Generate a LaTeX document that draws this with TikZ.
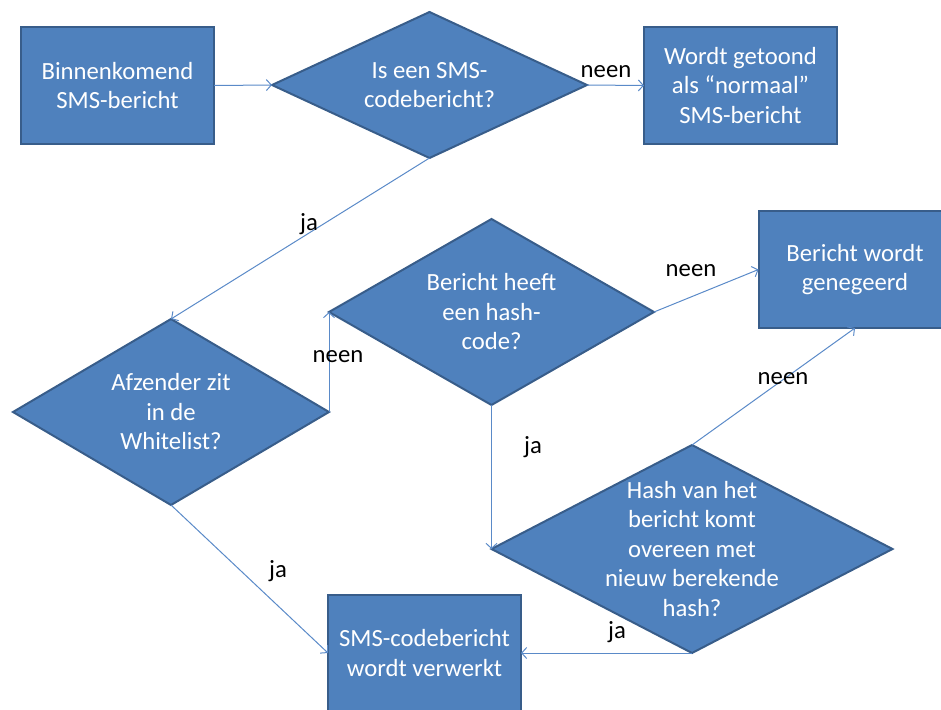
\documentclass[tikz,border=0pt]{standalone}
\usepackage{fontspec}
\setmainfont{Carlito}
\usetikzlibrary{shapes.geometric,arrows.meta}
\definecolor{boxfill}{RGB}{79,129,189}
\definecolor{boxline}{RGB}{56,93,138}
\definecolor{flowline}{RGB}{90,138,200}
\begin{document}
\begin{tikzpicture}[x=1pt,y=-1pt,
  txt/.style={font=\fontsize{24.7}{29.5}\selectfont},
  stepbox/.style={txt, rectangle, draw=boxline, line width=2pt, fill=boxfill,
    text=white, align=center, minimum width=193pt, minimum height=117pt,
    inner sep=0pt, outer sep=0pt},
  decision/.style={diamond, draw=boxline, line width=2pt, fill=boxfill,
    inner sep=0pt, outer sep=0pt},
  dtext/.style={txt, text=white, align=center, inner sep=0pt},
  flow/.style={draw=flowline, line width=1pt,
    -{Straight Barb[length=5pt,width=11pt,line width=1pt]}},
  tag/.style={txt, text=black, inner sep=0pt}]
\clip (0,0) rectangle (941,709);

% process boxes
\node[stepbox] (b1) at (117.5,85.5) {Binnenkomend\\SMS-bericht};
\node[stepbox] (b2) at (740.5,85.5) {Wordt getoond\\als “normaal”\\SMS-bericht};
\node[stepbox] (b3) at (855,269.5) {Bericht wordt\\genegeerd};
\node[stepbox] (b4) at (424.5,653) {SMS-codebericht\\wordt verwerkt};

% decisions
\node[decision, minimum width=315pt, minimum height=146pt,
  label={[dtext]center:{Is een SMS-\\codebericht?}}] (d1) at (429.5,85) {};
\node[decision, minimum width=316pt, minimum height=186pt,
  label={[dtext]center:{Afzender zit\\in de\\Whitelist?}}] (d2) at (171,412) {};
\node[decision, minimum width=325pt, minimum height=186pt,
  label={[dtext]center:{Bericht heeft\\een hash-\\code?}}] (d3) at (491.5,312) {};
\node[decision, minimum width=401pt, minimum height=208pt,
  label={[dtext]center:{Hash van het\\bericht komt\\overeen met\\nieuw berekende\\hash?}}] (d4) at (692,549) {};

% connectors
\draw[flow] (b1.east) -- (d1.west);
\draw[flow] (d1.east) -- (b2.west);
\draw[flow] (d1.south) -- (d2.north);
\draw[flow] (d2.east) -- (d3.west);
\draw[flow] (d3.east) -- (b3.west);
\draw[flow] (d3.south) -- (d4.west);
\draw[flow] (d4.north) -- (b3.south);
\draw[flow] (d2.south) -- (b4.west);
\draw[flow] (d4.south) -- (b4.east);

% connector labels
\node[tag] (l1) at (606,72) {neen};
\node[tag] (l2) at (309,224) {ja};
\node[tag] (l3) at (338,357) {neen};
\node[tag] (l4) at (691,271) {neen};
\node[tag] (l5) at (533,447) {ja};
\node[tag] (l6) at (783,379) {neen};
\node[tag] (l7) at (278,571) {ja};
\node[tag] (l8) at (617,632) {ja};
\end{tikzpicture}
\end{document}
